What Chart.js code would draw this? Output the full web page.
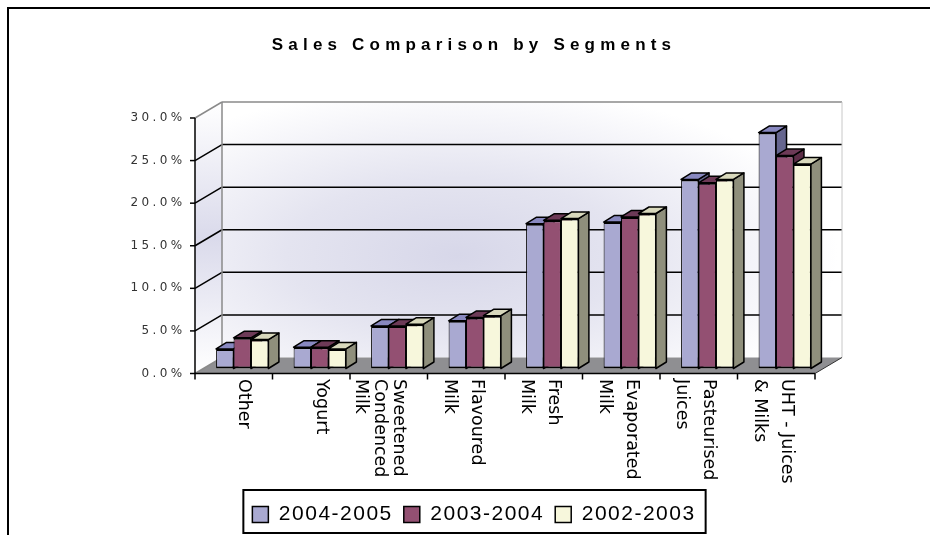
<!DOCTYPE html>
<html>
<head>
<meta charset="utf-8">
<title>Sales Comparison by Segments</title>
<script src="https://cdn.jsdelivr.net/npm/chart.js@4.4.1/dist/chart.umd.min.js"></script>
<style>
  html, body { margin: 0; padding: 0; background: #fff; overflow: hidden; }
  #frame { position: absolute; left: 7px; top: 7px; width: 1000px; height: 1000px; border: 2px solid #000; }
  #salesChart { position: absolute; left: 0; top: 0; }
</style>
</head>
<body>
<div id="frame"></div>
<canvas id="salesChart" width="930" height="535"></canvas>
<script>
// categories (one array entry per wrapped line)
const segments = [
    ['Other'],
    ['Yogurt'],
    ['Sweetened', 'Condenced', 'Milk'],
    ['Flavoured', 'Milk'],
    ['Fresh', 'Milk'],
    ['Evaporated', 'Milk'],
    ['Pasteurised', 'Juices'],
    ['UHT - Juices', '& Milks']
];
const seasons = ['2004-2005', '2003-2004', '2002-2003'];

// share of sales, %
const sales0405 = [2.3, 2.5, 5.0, 5.6, 17.0, 17.2, 22.2, 27.7];
const sales0304 = [3.6, 2.5, 5.0, 6.0, 17.4, 17.8, 21.8, 25.0];
const sales0203 = [3.4, 2.3, 5.2, 6.2, 17.6, 18.2, 22.2, 24.0];

const yMax = 30;
const yStep = 5;

const frontColors = ['#a9a9d1', '#935072', '#f7f7dc'];
const topColors = ['#8888c0', '#6d3a57', '#d8d8bc'];
const sideColors = ['#66668f', '#5c2d47', '#8f8f7c'];

// 3d offsets (pixels)
const DX = 10.5, DY = -6.5;      // bar depth
const FRONT = { x: -8.5, y: 5 };  // front plane vs bar plane
const BACK = { x: 18.5, y: -11 }; // back wall vs bar plane

function poly(ctx, pts, fill, stroke, lw) {
    ctx.beginPath();
    ctx.moveTo(pts[0][0], pts[0][1]);
    for (let i = 1; i < pts.length; i++) ctx.lineTo(pts[i][0], pts[i][1]);
    ctx.closePath();
    if (fill) { ctx.fillStyle = fill; ctx.fill(); }
    if (stroke) { ctx.strokeStyle = stroke; ctx.lineWidth = lw || 1; ctx.stroke(); }
}

function line(ctx, x1, y1, x2, y2, color, lw) {
    ctx.beginPath();
    ctx.moveTo(x1, y1);
    ctx.lineTo(x2, y2);
    ctx.strokeStyle = color;
    ctx.lineWidth = lw;
    ctx.stroke();
}

function withSpacing(obj, name, ctx, spacing) {
    if (!obj || obj['_sp_' + name]) return;
    const orig = obj[name];
    obj[name] = function (...args) {
        const prev = ctx.letterSpacing;
        ctx.letterSpacing = spacing;
        try { return orig.apply(this, args); } finally { ctx.letterSpacing = prev; }
    };
    obj['_sp_' + name] = true;
}

const spacingPlugin = {
    id: 'spacing',
    beforeLayout(chart) {
        const ctx = chart.ctx;
        withSpacing(chart.titleBlock, 'draw', ctx, '5.2px');
        withSpacing(chart.legend, 'fit', ctx, '1.5px');
        withSpacing(chart.legend, 'draw', ctx, '1.5px');
        withSpacing(chart.scales.y, 'drawLabels', ctx, '3.4px');
    }
};

const wallsPlugin = {
    id: 'walls',
    beforeDraw(chart) {
        const { ctx, scales: { x, y } } = chart;
        const L = x.left, R = x.right, T = y.top, B = y.bottom;
        const fL = L + FRONT.x, fR = R + FRONT.x;
        const bL = L + BACK.x, bR = R + BACK.x, bT = T + BACK.y, bB = B + BACK.y;
        ctx.save();

        // back wall
        ctx.save();
        ctx.beginPath();
        ctx.rect(bL, bT, bR - bL, bB - bT);
        ctx.clip();
        ctx.translate(bL + (bR - bL) * 0.38, bT + (bB - bT) * 0.6);
        ctx.scale(1, 0.45);
        const rg = ctx.createRadialGradient(0, 0, 0, 0, 0, 380);
        rg.addColorStop(0, '#d7d7e9');
        rg.addColorStop(0.45, '#e4e4f0');
        rg.addColorStop(1, '#ffffff');
        ctx.fillStyle = rg;
        ctx.fillRect(-700, -900, 1400, 1800);
        ctx.restore();

        // left wall
        const lg = ctx.createLinearGradient(0, bT, 0, B + FRONT.y);
        lg.addColorStop(0, '#ffffff');
        lg.addColorStop(0.5, '#dadaeb');
        lg.addColorStop(1, '#ffffff');
        poly(ctx, [[fL, T + FRONT.y], [bL, bT], [bL, bB], [fL, B + FRONT.y]], lg);

        // floor
        poly(ctx, [[fL, B + FRONT.y], [fR, B + FRONT.y], [bR, bB], [bL, bB]], '#8f8f92');

        // gridlines
        for (let v = yStep; v < yMax; v += yStep) {
            const py = y.getPixelForValue(v);
            line(ctx, bL, py + BACK.y, bR, py + BACK.y, '#000', 1.5);
            line(ctx, fL, py + FRONT.y, bL, py + BACK.y, '#000', 1.5);
        }
        line(ctx, bL, bT, bR, bT, '#8a8a8a', 1.5);
        line(ctx, fL, T + FRONT.y, bL, bT, '#8a8a8a', 1.5);
        line(ctx, bL, bT, bL, bB, '#8a8a8a', 1.5);
        line(ctx, bR, bT, bR, bB, '#c8c8c8', 1);
        line(ctx, fL, B + FRONT.y, bL, bB, '#8a8a8a', 1.5);
        line(ctx, fR, B + FRONT.y, bR, bB, '#333', 1);

        // front value axis
        line(ctx, fL, T + FRONT.y, fL, B + FRONT.y, '#000', 1.5);
        for (let v = 0; v <= yMax; v += yStep) {
            const py = y.getPixelForValue(v) + FRONT.y;
            line(ctx, fL - 5, py, fL, py, '#000', 1.5);
        }

        // front category axis
        line(ctx, fL, B + FRONT.y, fR, B + FRONT.y, '#000', 1.5);
        const catW = (R - L) / segments.length;
        for (let i = 0; i <= segments.length; i++) {
            const px = fL + i * catW;
            line(ctx, px, B + FRONT.y, px, B + FRONT.y + 6, '#000', 1.5);
        }
        ctx.restore();
    },
    beforeDatasetsDraw(chart) {
        const ctx = chart.ctx;
        ctx.save();
        ctx.lineJoin = 'round';
        for (let i = 0; i < segments.length; i++) {
            chart.data.datasets.forEach((ds, d) => {
                const bar = chart.getDatasetMeta(d).data[i];
                const l = bar.x - bar.width / 2, r = bar.x + bar.width / 2;
                const t = bar.y, b = bar.base;
                poly(ctx, [[r, t], [r + DX, t + DY], [r + DX, b + DY], [r, b]], sideColors[d], '#000', 1.5);
                poly(ctx, [[l, t], [l + DX, t + DY], [r + DX, t + DY], [r, t]], topColors[d], '#000', 1.5);
            });
        }
        ctx.restore();
    },
    afterDraw(chart) {
        const { ctx, scales: { x } } = chart;
        ctx.save();

        // category labels, rotated clockwise
        ctx.font = '17.5px "DejaVu Sans"';
        ctx.fillStyle = '#000';
        ctx.textAlign = 'left';
        ctx.textBaseline = 'middle';
        segments.forEach((lines, i) => {
            const cx = x.getPixelForValue(i) + 1.5;
            const gap = lines.length > 2 ? 19 : 27;
            lines.forEach((txt, j) => {
                ctx.save();
                ctx.translate(cx - j * gap, 379);
                ctx.rotate(Math.PI / 2);
                ctx.fillText(txt, 0, 0);
                ctx.restore();
            });
        });

        // legend frame
        const lg = chart.legend;
        const hb = lg.legendHitBoxes;
        if (hb && hb.length) {
            const first = hb[0], last = hb[hb.length - 1];
            const left = first.left - 9;
            const right = last.left + last.width + 10;
            ctx.strokeStyle = '#000';
            ctx.lineWidth = 2;
            ctx.strokeRect(left, lg.top - 3, right - left, lg.bottom - lg.top + 1);
        }
        ctx.restore();
    }
};

const datasets = [sales0405, sales0304, sales0203].map((vals, d) => ({
    label: seasons[d],
    data: vals,
    backgroundColor: frontColors[d],
    borderColor: '#000',
    borderWidth: { top: 2, bottom: 2, left: 1, right: 1 },
    borderSkipped: false,
    categoryPercentage: 0.675,
    barPercentage: 1.0
}));

new Chart(document.getElementById('salesChart'), {
    type: 'bar',
    data: { labels: segments, datasets },
    options: {
        responsive: false,
        animation: false,
        layout: { padding: { left: 124.5, right: 106.5, top: 0, bottom: 0 } },
        plugins: {
            title: {
                display: true,
                text: 'Sales Comparison by Segments',
                color: '#000',
                font: { family: '"Liberation Sans", Arial, sans-serif', size: 17, weight: 'bold' },
                padding: { top: 35.4, bottom: 57.2 }
            },
            legend: {
                position: 'bottom',
                labels: {
                    color: '#000',
                    font: { family: '"Liberation Sans", Arial, sans-serif', size: 21 },
                    boxWidth: 16,
                    boxHeight: 16,
                    padding: 11
                }
            },
            tooltip: { enabled: false }
        },
        scales: {
            x: {
                grid: { display: false, drawTicks: false },
                border: { display: false },
                ticks: { display: false },
                afterFit: s => { s.height = 124.5; }
            },
            y: {
                min: 0,
                max: yMax,
                grid: { display: false, drawTicks: false },
                border: { display: false },
                ticks: {
                    stepSize: yStep,
                    padding: 18,
                    labelOffset: 5,
                    color: '#333',
                    font: { family: '"DejaVu Sans"', size: 12 },
                    callback: v => v.toFixed(1) + '%'
                },
                afterFit: s => { s.width = 79; }
            }
        }
    },
    plugins: [spacingPlugin, wallsPlugin]
});
</script>
</body>
</html>
